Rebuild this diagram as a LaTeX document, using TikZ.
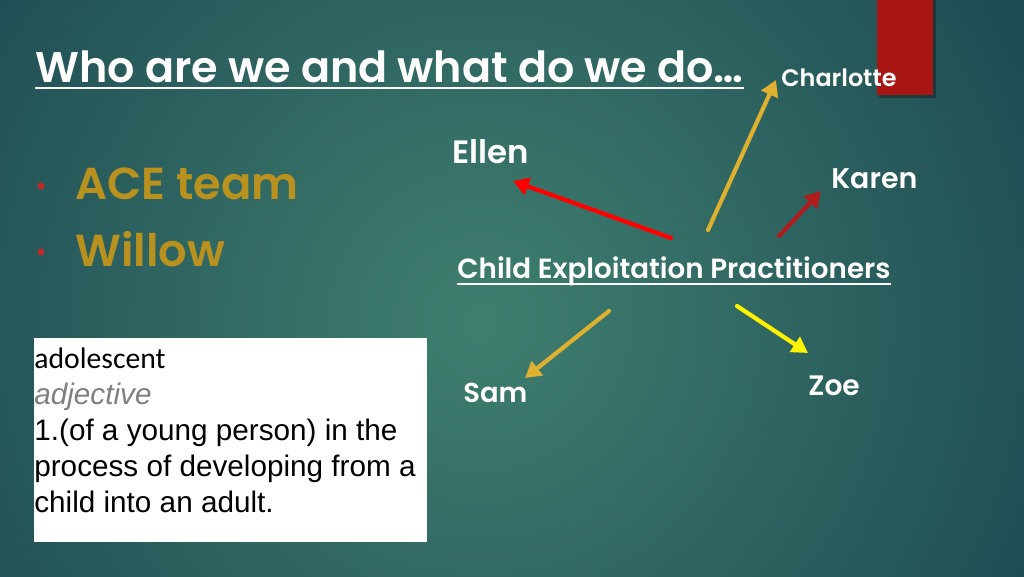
\documentclass[tikz,border=0pt]{standalone}
\usepackage{fontspec}
\setmainfont{Poppins}[BoldFont={* SemiBold}]
\newfontfamily\arialfont{Liberation Sans}
\newfontfamily\calfont{Carlito}
\usetikzlibrary{arrows.meta,positioning}
\definecolor{bgdark}{HTML}{153C4B}
\definecolor{bglight}{HTML}{3F7F6F}
\definecolor{slidered}{HTML}{A81614}
\definecolor{teamgold}{HTML}{B8911E}
\definecolor{arrowgold}{HTML}{DDB02F}
\definecolor{arrowred}{HTML}{B11C1C}
\definecolor{dotred}{HTML}{C0282A}

\begin{document}
\begin{tikzpicture}[x=0.02cm, y=-0.02cm,
    person/.style={text=white, inner sep=0, anchor=base west},
    team/.style={text=teamgold, inner sep=0, anchor=base west, font=\bfseries\fontsize{25.5}{30}\selectfont},
    pointer/.style={line width=2.4pt, line cap=round, -{Triangle[length=9pt,width=10pt]}}]
  \useasboundingbox (0,0) rectangle (1024,576);
  % background
  \begin{scope}
    \clip (0,0) rectangle (1024,576);
    \shade[inner color=bglight, outer color=bgdark] (480,320) circle (800);
    \fill[black, opacity=0.3] (879,-1) rectangle (936,98);
    \fill[slidered] (877,-1) rectangle (933,95);
  \end{scope}
  % title
  \node[person, font=\bfseries\fontsize{24.4}{29}\selectfont] (title) at (35,82) {Who are we and what do we do…};
  \draw[white, line width=1.4pt] ([yshift=-3.4pt]title.base west) -- ([yshift=-3.4pt]title.base east);
  % bullets
  \fill[dotred] (41,186) circle (3.5);
  \fill[dotred] (41,252) circle (3.5);
  \node[team] (ace) at (75,199) {ACE team};
  \node[team] (willow) at (75,266) {Willow};
  % names
  \node[person, font=\bfseries\fontsize{15.8}{19}\selectfont] (cep) at (457,278) {Child Exploitation Practitioners};
  \draw[white, line width=1.2pt] ([yshift=-3.4pt]cep.base west) -- ([yshift=-3.4pt]cep.base east);
  \node[person, font=\bfseries\fontsize{18.4}{22}\selectfont] (ellen) at (452,163) {Ellen};
  \node[person, font=\bfseries\fontsize{13.6}{16}\selectfont] (charlotte) at (781,86) {Charlotte};
  \node[person, font=\bfseries\fontsize{16.2}{19}\selectfont] (karen) at (831,188) {Karen};
  \node[person, font=\bfseries\fontsize{15.6}{19}\selectfont] (sam) at (463,402) {Sam};
  \node[person, font=\bfseries\fontsize{16}{19}\selectfont] (zoe) at (808,395) {Zoe};
  % arrows
  \draw[pointer, red] ([shift={(214,-40)}]cep.base west) -- ([shift={(61,18)}]ellen.base west);
  \draw[pointer, arrowgold] ([shift={(251,-48)}]cep.base west) -- ([shift={(-5,-6)}]charlotte.base west);
  \draw[pointer, arrowred] ([shift={(322,-42)}]cep.base west) -- ([shift={(-10,3)}]karen.base west);
  \draw[pointer, arrowgold] ([shift={(152,33)}]cep.base west) -- ([shift={(62,-24)}]sam.base west);
  \draw[pointer, yellow] ([shift={(280,28)}]cep.base west) -- ([shift={(0,-42)}]zoe.base west);
  % definition
  \fill[white] (34,338) rectangle (427,542);
  \node[anchor=north west, inner sep=0, align=left, font=\arialfont\fontsize{16.9}{20.4}\selectfont] (definition) at (34,348)
    {{\calfont adolescent}\\ {\color{gray}\itshape adjective}\\ 1.(of a young person) in the\\ process of developing from a\\ child into an adult.};
\end{tikzpicture}
\end{document}
